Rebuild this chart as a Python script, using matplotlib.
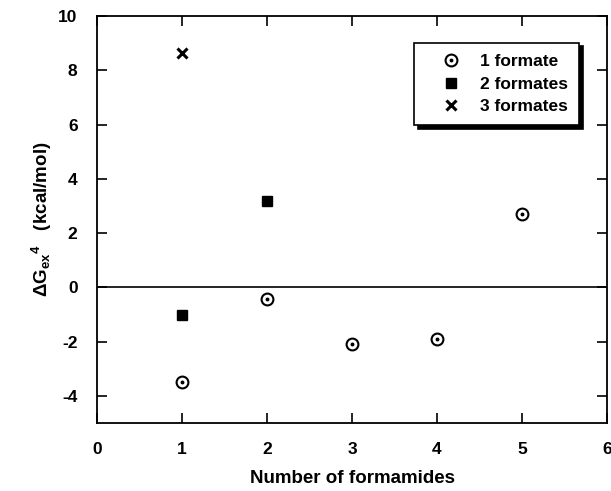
import matplotlib
matplotlib.use('Agg')
import matplotlib.pyplot as plt

plt.rcParams['font.family'] = ['Liberation Sans', 'DejaVu Sans']
plt.rcParams['font.weight'] = 'bold'
plt.rcParams['axes.unicode_minus'] = False
plt.rcParams['mathtext.fontset'] = 'custom'
plt.rcParams['mathtext.rm'] = 'Liberation Sans:bold'
plt.rcParams['mathtext.it'] = 'Liberation Sans:bold'
plt.rcParams['mathtext.bf'] = 'Liberation Sans:bold'

# number of formamides vs excess free energy
x_one = [1, 2, 3, 4, 5]
y_one = [-3.5, -0.42, -2.1, -1.9, 2.72]
x_two = [1, 2]
y_two = [-1.03, 3.18]
x_three = [1]
y_three = [8.64]

x_ticks = [0, 1, 2, 3, 4, 5, 6]
y_ticks = [-4, -2, 0, 2, 4, 6, 8, 10]

fig = plt.figure(figsize=(6.11, 4.91), dpi=100)
ax = fig.add_axes([97/611, 1 - 423/491, 510/611, 407/491])

ax.axhline(0, color='black', lw=1.2, zorder=1)

c1, = ax.plot(x_one, y_one, 'o', ms=8.5, mfc='none', mec='black', mew=1.5, ls='none')
d1, = ax.plot(x_one, y_one, 'o', ms=1.8, mfc='black', mec='black', ls='none')
s2, = ax.plot(x_two, y_two, 's', ms=7.5, color='black', ls='none')
x3, = ax.plot(x_three, y_three, 'x', ms=7, mew=2.2, color='black', ls='none')

ax.set_xlim(0, 6)
ax.set_ylim(-5, 10)
ax.set_xticks(x_ticks)
ax.set_yticks(y_ticks)
ax.tick_params(direction='in', length=7, width=1.2, top=True, right=True,
               labelsize=12.5)
ax.tick_params(axis='x', pad=14)
ax.tick_params(axis='y', pad=14)
for sp in ax.spines.values():
    sp.set_linewidth(1.3)

ax.set_xlabel('Number of formamides', fontsize=13.5, fontweight='bold', labelpad=9)
ax.set_ylabel('ΔG$_{\\mathrm{ex}}{}^{4}$   (kcal/mol)', fontsize=13.5,
              fontweight='bold', labelpad=3)

leg = ax.legend([(c1, d1), s2, x3], ['1 formate', '2 formates', '3 formates'],
                loc='upper left', bbox_to_anchor=(0.622, 0.934),
                fontsize=12.5, frameon=True, fancybox=False,
                shadow={'color': 'black', 'alpha': 1, 'ox': 2.5, 'oy': -2.5},
                borderpad=0.65, handlelength=2.9, handletextpad=0.25,
                labelspacing=0.42, borderaxespad=0)
leg.get_frame().set_edgecolor('black')
leg.get_frame().set_linewidth(1.2)

fig.savefig('out.png', dpi=100)
